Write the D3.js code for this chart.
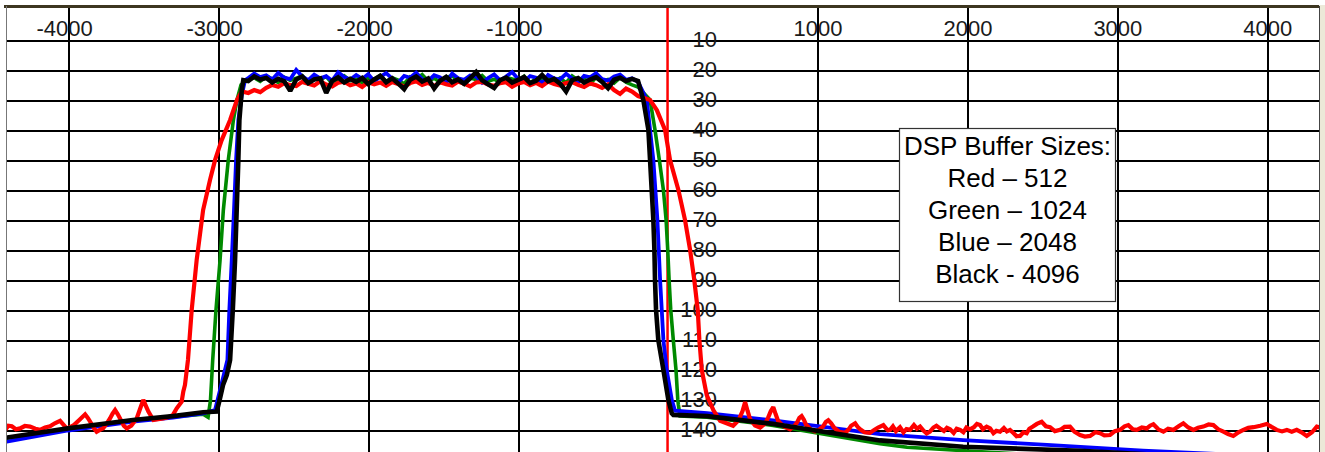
<!DOCTYPE html>
<html>
<head>
<meta charset="utf-8">
<script src="https://cdn.jsdelivr.net/npm/d3@7"></script>
<style>
  html, body { margin: 0; padding: 0; background: #fff; overflow: hidden; }
  svg { display: block; }
</style>
</head>
<body>
<svg id="chart" width="1325" height="452"></svg>
<script>
// tick values
const xTicks = [-4000, -3000, -2000, -1000, 1000, 2000, 3000, 4000];
const yTicks = [10, 20, 30, 40, 50, 60, 70, 80, 90, 100, 110, 120, 130, 140];

// passband frequency bins (Hz) shared by all four traces
const passHz = [-2800, -2760, -2720, -2680, -2640, -2600, -2560, -2520, -2480, -2440,
  -2400, -2360, -2320, -2280, -2240, -2200, -2160, -2120, -2080, -2040,
  -2000, -1960, -1920, -1880, -1840, -1800, -1760, -1720, -1680, -1640,
  -1600, -1560, -1520, -1480, -1440, -1400, -1360, -1320, -1280, -1240,
  -1200, -1160, -1120, -1080, -1040, -1000, -960, -920, -880, -840,
  -800, -760, -720, -680, -640, -600, -560, -520, -480, -440,
  -400, -360, -320, -280, -240, -200];

const redPass = [27.5, 26.5, 27.2, 25.8, 24.8, 25.4, 24.2, 24.9, 25.2, 23.8,
  24.4, 25.0, 23.6, 24.7, 25.3, 24.1, 23.7, 24.9, 24.3, 25.5,
  23.9, 24.6, 24.0, 25.1, 23.8, 24.5, 25.4, 24.2, 23.6, 24.8,
  24.1, 25.2, 23.9, 24.6, 25.0, 23.7, 24.4, 25.3, 24.0, 23.8,
  24.7, 25.1, 24.2, 23.9, 25.4, 24.3, 23.8, 24.9, 24.1, 25.2,
  23.7, 24.5, 25.0, 24.2, 23.9, 24.8, 25.5, 24.3, 24.9, 25.8,
  24.6, 26.5, 27.8, 26.0, 27.0, 28.5];
const greenPass = [23.0, 22.4, 23.6, 21.9, 22.8, 24.0, 22.2, 23.3, 22.6, 21.7,
  23.9, 22.5, 23.1, 22.0, 24.3, 22.7, 21.8, 23.4, 22.9, 24.1,
  22.3, 23.0, 21.6, 23.7, 22.4, 23.2, 24.4, 22.1, 22.8, 21.4,
  23.5, 22.6, 23.9, 22.2, 21.8, 23.3, 24.6, 22.5, 23.0, 21.7,
  23.6, 22.9, 24.0, 22.3, 22.8, 23.4, 21.9, 24.2, 22.6, 23.1,
  22.0, 23.8, 22.5, 24.1, 21.8, 23.2, 22.7, 24.4, 22.3, 23.6,
  23.0, 24.2, 22.4, 23.9, 24.8, 25.5];
const bluePass = [22.5, 21.0, 22.2, 21.6, 23.0, 20.8, 22.4, 22.9, 19.8, 22.0,
  23.2, 21.4, 22.6, 21.9, 23.4, 20.6, 22.2, 23.0, 21.5, 22.8,
  21.2, 23.6, 22.1, 20.9, 22.7, 24.0, 21.8, 22.4, 20.7, 22.9,
  23.5, 21.6, 22.3, 24.2, 21.0, 22.6, 23.1, 21.7, 22.0, 24.1,
  22.5, 21.3, 23.3, 22.0, 20.5, 22.8, 23.7, 21.9, 22.4, 24.3,
  21.5, 22.6, 23.0, 21.1, 22.7, 24.0, 21.8, 22.3, 20.9, 22.9,
  23.4, 22.0, 21.4, 23.1, 22.6, 23.8];
const blackPass = [23.5, 22.0, 23.0, 22.5, 24.0, 22.8, 23.6, 26.8, 23.0, 22.0,
  24.2, 23.0, 22.6, 27.5, 23.4, 22.3, 24.0, 22.8, 23.8, 22.5,
  24.5, 23.0, 21.8, 23.9, 22.6, 24.3, 26.2, 23.1, 22.0, 23.7,
  22.7, 26.0, 23.4, 22.1, 23.9, 23.0, 24.4, 22.6, 20.5, 23.3,
  24.6, 25.8, 23.2, 22.4, 24.0, 23.1, 22.2, 24.2, 23.4, 21.5,
  23.6, 22.8, 24.4, 27.0, 23.2, 22.5, 24.0, 23.0, 22.2, 23.8,
  25.9, 23.1, 22.4, 23.5, 22.8, 23.5];

// lower skirts [Hz, level]
const redLow = [[-4420, 139.8], [-4400, 138.4], [-4377, 138.6], [-4350, 139.6], [-4322, 139.3],
  [-4290, 138.5], [-4255, 138.7], [-4220, 139.4], [-4189, 139.8], [-4155, 139.0], [-4122, 138.6],
  [-4090, 137.6], [-4055, 136.8], [-4030, 138.2], [-4011, 139.3], [-3985, 138.8], [-3963, 138.2],
  [-3925, 136.4], [-3888, 134.6], [-3870, 135.8], [-3855, 137.0], [-3830, 139.2], [-3811, 140.4],
  [-3790, 139.8], [-3768, 139.3], [-3740, 137.4], [-3722, 136.0], [-3705, 134.4], [-3688, 133.2],
  [-3670, 134.6], [-3655, 136.0], [-3630, 138.4], [-3610, 139.3], [-3580, 138.4], [-3544, 136.0],
  [-3520, 132.6], [-3500, 129.8], [-3483, 131.8], [-3466, 133.7], [-3433, 136.5], [-3400, 136.2],
  [-3368, 136.0], [-3335, 135.6], [-3302, 134.8], [-3277, 132.6], [-3244, 130.4], [-3233, 127.0],
  [-3222, 124.8], [-3202, 116.5], [-3177, 99.8], [-3144, 83.2], [-3101, 66.5], [-3055, 56.5],
  [-3021, 49.8], [-2977, 43.2], [-2921, 36.5], [-2875, 29.8], [-2843, 27.0]];
const greenLow = [[-4420, 142.6], [-4002, 139.5], [-3569, 136.7], [-3302, 135.5], [-3101, 134.6],
  [-3068, 135.6], [-3052, 130.0], [-3037, 116.5], [-3015, 99.8], [-2988, 83.2], [-2966, 66.5],
  [-2933, 49.8], [-2899, 36.5], [-2875, 29.8], [-2848, 24.8]];
const blueLow = [[-4420, 143.8], [-4002, 140.0], [-3569, 137.0], [-3302, 135.7], [-3101, 134.3],
  [-3022, 133.2], [-2988, 126.5], [-2939, 116.5], [-2926, 99.8], [-2910, 83.2], [-2895, 66.5],
  [-2881, 49.8], [-2866, 36.5], [-2843, 28.2], [-2821, 23.2]];
const blackLow = [[-4420, 142.4], [-4002, 139.3], [-3569, 136.5], [-3302, 135.2], [-3101, 133.9],
  [-3010, 133.7], [-2988, 129.2], [-2968, 124.8], [-2943, 121.5], [-2921, 116.5], [-2903, 99.8],
  [-2888, 83.2], [-2877, 66.5], [-2866, 49.8], [-2859, 36.5], [-2843, 26.5], [-2833, 23.2]];

// upper skirts [Hz, level]
const redHigh = [[-120, 29.8], [-75, 33.2], [-20, 39.8], [13, 49.8], [69, 59.8], [113, 69.8],
  [147, 79.8], [175, 89.8], [198, 99.8], [209, 109.8], [225, 119.8], [258, 128.2], [302, 133.2],
  [347, 136.8], [390, 137.6], [434, 138.4], [470, 136.6], [497, 133.5], [514, 130.5], [530, 133.4],
  [547, 136.2], [580, 138.3], [614, 139.0], [645, 137.8], [667, 135.8], [685, 133.6], [702, 132.2],
  [718, 134.6], [734, 136.8], [770, 138.6], [814, 139.6], [840, 138.6], [860, 137.4], [876, 135.8],
  [891, 135.2], [906, 136.4], [920, 138.0], [950, 139.6], [980, 140.3], [1010, 139.6], [1034, 138.6],
  [1052, 137.2], [1069, 136.6], [1088, 137.6], [1107, 139.0], [1140, 140.4], [1181, 140.8],
  [1205, 139.6], [1221, 138.4], [1248, 137.6], [1265, 138.8], [1281, 139.6], [1310, 140.6],
  [1347, 140.8], [1375, 139.8], [1401, 139.0], [1436, 138.2], [1452, 139.2], [1467, 139.9],
  [1481, 139.8], [1500, 138.6], [1520, 140.2], [1547, 138.9], [1570, 140.6], [1590, 139.5],
  [1614, 139.8], [1640, 138.2], [1660, 139.4], [1681, 138.7], [1705, 140.1], [1725, 141.0],
  [1747, 140.4], [1770, 139.0], [1790, 138.4], [1814, 139.3], [1840, 140.2], [1860, 139.1],
  [1881, 139.6], [1905, 140.8], [1925, 139.4], [1948, 139.8], [1970, 140.6], [1990, 139.0],
  [2014, 139.6], [2040, 138.9], [2060, 137.8], [2081, 138.2], [2100, 139.6], [2125, 138.7],
  [2148, 139.3], [2170, 140.9], [2190, 140.1], [2214, 140.4], [2240, 139.2], [2260, 140.3],
  [2281, 139.8], [2305, 140.9], [2325, 141.9], [2348, 141.8], [2370, 140.6], [2392, 140.9],
  [2410, 139.4], [2434, 138.7], [2460, 137.8], [2492, 137.1], [2520, 138.6], [2548, 138.9],
  [2580, 140.2], [2615, 139.8], [2645, 138.8], [2681, 138.7], [2710, 140.4], [2748, 141.5],
  [2780, 142.0], [2815, 141.8], [2850, 140.6], [2881, 140.9], [2910, 141.6], [2948, 141.5],
  [2980, 140.2], [3015, 139.8], [3045, 138.6], [3070, 138.2], [3100, 139.6], [3126, 139.8],
  [3160, 139.0], [3193, 139.3], [3215, 138.4], [3237, 137.9], [3270, 139.6], [3304, 140.4],
  [3335, 139.4], [3370, 139.8], [3405, 138.6], [3437, 137.6], [3470, 139.0], [3504, 139.8],
  [3535, 139.1], [3570, 138.7], [3605, 138.0], [3637, 138.2], [3670, 139.6], [3704, 140.4],
  [3735, 141.2], [3770, 141.8], [3805, 140.6], [3837, 139.8], [3870, 139.1], [3904, 138.9],
  [3950, 138.4], [3993, 137.8], [4025, 138.8], [4060, 139.8], [4095, 140.3], [4127, 139.8],
  [4160, 140.4], [4193, 139.8], [4225, 140.6], [4260, 141.8], [4295, 140.6], [4327, 138.7],
  [4360, 139.2]];
const greenHigh = [[-120, 29.8], [-87, 39.8], [-58, 49.8], [-31, 59.8], [-13, 69.8], [-2, 79.8],
  [7, 89.8], [18, 99.8], [35, 109.8], [53, 119.8], [65, 129.8], [69, 131.5], [80, 135.2],
  [260, 135.6], [700, 138.3], [1414, 144.4], [1594, 145.6], [2034, 146.9], [4400, 154]];
const blueHigh = [[-142, 29.8], [-98, 49.8], [-71, 69.8], [-53, 89.8], [-31, 109.8], [-9, 119.8],
  [25, 129.8], [47, 133.4], [260, 134.2], [700, 136.6], [1414, 141.2], [1968, 143.2],
  [2528, 144.8], [3168, 146.7], [4400, 149.5]];
const blackHigh = [[-165, 29.8], [-131, 39.8], [-120, 49.8], [-109, 59.8], [-98, 69.8], [-91, 79.8],
  [-87, 89.8], [-80, 99.8], [-65, 109.8], [-31, 119.8], [2, 129.8], [25, 134.3], [35, 134.8],
  [260, 135.2], [700, 137.8], [1414, 143.3], [1968, 145.4], [2748, 146.8], [4400, 151]];

const legendLines = ["DSP Buffer Sizes:", "Red \u2013 512", "Green \u2013 1024", "Blue \u2013 2048", "Black - 4096"];

const W = 1325, H = 452;
const plotL = 7, plotR = 1319, plotT = 7;

const x = d3.scaleLinear().domain([-4409, 4335]).range([7, 1318]);
const y = d3.scaleLinear().domain([10, 140]).range([40.5, 430.5]);

const svg = d3.select("#chart");
const font = "'Liberation Sans', Arial, sans-serif";

svg.append("rect").attr("x", plotL).attr("y", plotT)
  .attr("width", plotR - plotL).attr("height", H - plotT).attr("fill", "#fff");

// vertical grid + frequency labels
const gx = svg.append("g")
  .attr("transform", `translate(0,${plotT})`)
  .call(d3.axisTop(x).tickValues(xTicks).tickSize(-(H - plotT)).tickFormat(d => String(d)));
gx.select(".domain").remove();
gx.selectAll(".tick line").attr("stroke", "#000").attr("stroke-width", 2)
  .attr("shape-rendering", "crispEdges");
gx.selectAll(".tick text")
  .attr("x", 24).attr("y", 29).attr("dy", null)
  .attr("text-anchor", "end")
  .attr("fill", "#1a1a1a")
  .style("font-family", font).style("font-size", "22px");

// horizontal grid + level labels
const gy = svg.append("g")
  .attr("transform", `translate(${plotL},0)`)
  .call(d3.axisRight(y).tickValues(yTicks).tickSize(plotR - plotL));
gy.select(".domain").remove();
gy.selectAll(".tick line").attr("stroke", "#000").attr("stroke-width", 2)
  .attr("shape-rendering", "crispEdges");
gy.selectAll(".tick text")
  .attr("x", x(0) + 49 - plotL).attr("y", 6).attr("dy", null)
  .attr("text-anchor", "end")
  .attr("fill", "#1a1a1a")
  .style("font-family", font).style("font-size", "22px");

// centre frequency marker
svg.append("line")
  .attr("x1", x(0) - 0.5).attr("x2", x(0) - 0.5)
  .attr("y1", plotT).attr("y2", H)
  .attr("stroke", "#ff0000").attr("stroke-width", 2.5);

// traces
svg.append("clipPath").attr("id", "plot")
  .append("rect").attr("x", plotL).attr("y", plotT).attr("width", plotR - plotL).attr("height", H - plotT);

const build = (low, pass, high) => low.concat(passHz.map((f, i) => [f, pass[i]]), high);
const traces = [
  { color: "#008a00", width: 3.6, pts: build(greenLow, greenPass, greenHigh) },
  { color: "#0000ff", width: 3.8, pts: build(blueLow, bluePass, blueHigh) },
  { color: "#ff0000", width: 4.2, pts: build(redLow, redPass, redHigh) },
  { color: "#000000", width: 4.6, pts: build(blackLow, blackPass, blackHigh) }
];

const line = d3.line().x(d => x(d[0])).y(d => y(d[1]));
svg.append("g").attr("clip-path", "url(#plot)")
  .selectAll("path")
  .data(traces)
  .join("path")
  .attr("d", d => line(d.pts))
  .attr("fill", "none")
  .attr("stroke", d => d.color)
  .attr("stroke-width", d => d.width)
  .attr("stroke-linejoin", "miter")
  .attr("stroke-miterlimit", 2);

// legend box
const lg = svg.append("g");
lg.append("rect")
  .attr("x", 899.5).attr("y", 128.5).attr("width", 216).attr("height", 173)
  .attr("fill", "#fff").attr("stroke", "#333").attr("stroke-width", 1.2);
lg.selectAll("text")
  .data(legendLines)
  .join("text")
  .attr("x", 1007.5)
  .attr("y", (d, i) => 155 + i * 32)
  .attr("text-anchor", "middle")
  .attr("fill", "#000")
  .style("font-family", font).style("font-size", "26px")
  .text(d => d);

// window frame
svg.append("line").attr("x1", 4).attr("x2", plotR + 1).attr("y1", 6.5).attr("y2", 6.5)
  .attr("stroke", "#3d3620").attr("stroke-width", 3);
svg.append("line").attr("x1", 6.5).attr("x2", 6.5).attr("y1", 6).attr("y2", H)
  .attr("stroke", "#777").attr("stroke-width", 1);
svg.append("rect").attr("x", plotR).attr("y", 5).attr("width", W - plotR).attr("height", H)
  .attr("fill", "#ece9d8");
svg.append("line").attr("x1", plotR + 0.5).attr("x2", plotR + 0.5).attr("y1", 6).attr("y2", H)
  .attr("stroke", "#444").attr("stroke-width", 1);
</script>
</body>
</html>
